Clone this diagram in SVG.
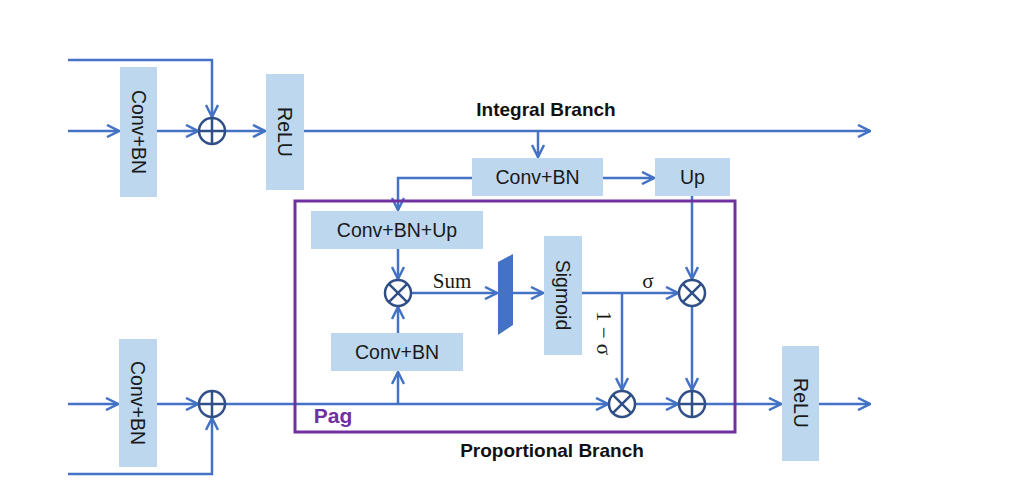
<svg xmlns="http://www.w3.org/2000/svg" width="1021" height="496" viewBox="0 0 1021 496">
<style>
.box{fill:#BDD7EE}
.t{font-family:"Liberation Sans",Arial,sans-serif;font-size:19.5px;fill:#1a1a1a;text-anchor:middle;dominant-baseline:central}
.b{font-family:"Liberation Sans",Arial,sans-serif;font-size:19px;font-weight:bold;fill:#111;text-anchor:middle}
.s{font-family:"Liberation Serif","Times New Roman",serif;font-size:21px;fill:#1a1a1a;text-anchor:middle}
.ln{fill:none;stroke:#4472C4;stroke-width:2.5}
.op{fill:#fff;stroke:#2F4F86;stroke-width:2.5}
.opl{stroke:#2F4F86;stroke-width:2.5}
</style>
<defs>
<marker id="ah" viewBox="0 0 14 14" refX="13" refY="7" markerWidth="14" markerHeight="14" markerUnits="userSpaceOnUse" orient="auto">
<path d="M1,1 L13,7 L1,13" fill="none" stroke="#4472C4" stroke-width="2.5"/>
</marker>
</defs>
<rect width="1021" height="496" fill="#fff"/>

<g id="connectors">
<path class="ln" d="M68,60 H212 V117" marker-end="url(#ah)"/>
<path class="ln" d="M68,131 H119" marker-end="url(#ah)"/>
<path class="ln" d="M157,131 H198" marker-end="url(#ah)"/>
<path class="ln" d="M226,131 H265" marker-end="url(#ah)"/>
<path class="ln" d="M304,131 H870" marker-end="url(#ah)"/>
<path class="ln" d="M538,131 V157" marker-end="url(#ah)"/>
<path class="ln" d="M603,178 H654" marker-end="url(#ah)"/>
<path class="ln" d="M472,178 H398 V210" marker-end="url(#ah)"/>
<path class="ln" d="M398,249 V279" marker-end="url(#ah)"/>
<path class="ln" d="M412,293 H497" marker-end="url(#ah)"/>
<path class="ln" d="M513,293 H543" marker-end="url(#ah)"/>
<path class="ln" d="M582,293 H678" marker-end="url(#ah)"/>
<path class="ln" d="M692,196 V279" marker-end="url(#ah)"/>
<path class="ln" d="M622,293 V390" marker-end="url(#ah)"/>
<path class="ln" d="M692,307 V390" marker-end="url(#ah)"/>
<path class="ln" d="M398,333 V307" marker-end="url(#ah)"/>
<path class="ln" d="M398,404 V372" marker-end="url(#ah)"/>
<path class="ln" d="M68,404 H118" marker-end="url(#ah)"/>
<path class="ln" d="M157,404 H198" marker-end="url(#ah)"/>
<path class="ln" d="M68,474 H212 V418" marker-end="url(#ah)"/>
<path class="ln" d="M226,404 H608" marker-end="url(#ah)"/>
<path class="ln" d="M636,404 H678" marker-end="url(#ah)"/>
<path class="ln" d="M706,404 H781" marker-end="url(#ah)"/>
<path class="ln" d="M819,404 H870" marker-end="url(#ah)"/>
</g>

<g id="pag">
<rect x="295" y="201" width="440" height="231" fill="none" stroke="#7030A0" stroke-width="3"/>
<text x="333" y="423" font-family="'Liberation Sans',Arial,sans-serif" font-size="21" font-weight="bold" fill="#7030A0" text-anchor="middle">Pag</text>
</g>

<g id="conv1"><rect class="box" x="120" y="67" width="37" height="130"/><text class="t" transform="translate(138.5,132) rotate(90)">Conv+BN</text></g>
<g id="add1"><circle class="op" cx="212" cy="131" r="13"/><path class="opl" d="M199,131 H225 M212,118 V144"/></g>
<g id="relu1"><rect class="box" x="266" y="74" width="38" height="116"/><text class="t" transform="translate(285,132) rotate(90)">ReLU</text></g>

<g id="conv2"><rect class="box" x="472" y="158" width="131" height="38"/><text class="t" x="537.5" y="177">Conv+BN</text></g>
<g id="up"><rect class="box" x="655" y="158" width="75" height="38"/><text class="t" x="692.5" y="177">Up</text></g>
<g id="convup"><rect class="box" x="311" y="211" width="172" height="38"/><text class="t" x="397" y="230">Conv+BN+Up</text></g>
<g id="mul1"><circle class="op" cx="398" cy="293" r="13"/><path class="opl" d="M388.8,283.8 L407.2,302.2 M407.2,283.8 L388.8,302.2"/></g>
<g id="sum"><polygon points="498,262 513,254 513,325 498,335" fill="#4472C4"/></g>
<g id="sigmoid"><rect class="box" x="544" y="236" width="38" height="119"/><text class="t" transform="translate(563,295) rotate(90)">Sigmoid</text></g>
<g id="mul2"><circle class="op" cx="692" cy="293" r="13"/><path class="opl" d="M682.8,283.8 L701.2,302.2 M701.2,283.8 L682.8,302.2"/></g>
<g id="conv3"><rect class="box" x="331" y="333" width="132" height="38"/><text class="t" x="397" y="352">Conv+BN</text></g>
<g id="mul3"><circle class="op" cx="622" cy="404" r="13"/><path class="opl" d="M612.8,394.8 L631.2,413.2 M631.2,394.8 L612.8,413.2"/></g>
<g id="add3"><circle class="op" cx="692" cy="404" r="13"/><path class="opl" d="M679,404 H705 M692,391 V417"/></g>

<g id="conv4"><rect class="box" x="119" y="339" width="38" height="128"/><text class="t" transform="translate(138,403) rotate(90)">Conv+BN</text></g>
<g id="add2"><circle class="op" cx="212" cy="404" r="13"/><path class="opl" d="M199,404 H225 M212,391 V417"/></g>
<g id="relu2"><rect class="box" x="782" y="346" width="37" height="115"/><text class="t" transform="translate(800.5,403) rotate(90)">ReLU</text></g>

<g id="labels">
<text class="b" x="546" y="116">Integral Branch</text>
<text class="b" x="552" y="457">Proportional Branch</text>
<text class="s" x="452" y="288">Sum</text>
<text class="s" x="648" y="288">σ</text>
<text class="s" transform="translate(604,333) rotate(90)" dominant-baseline="central" font-size="22">1 − σ</text>
</g>
</svg>
